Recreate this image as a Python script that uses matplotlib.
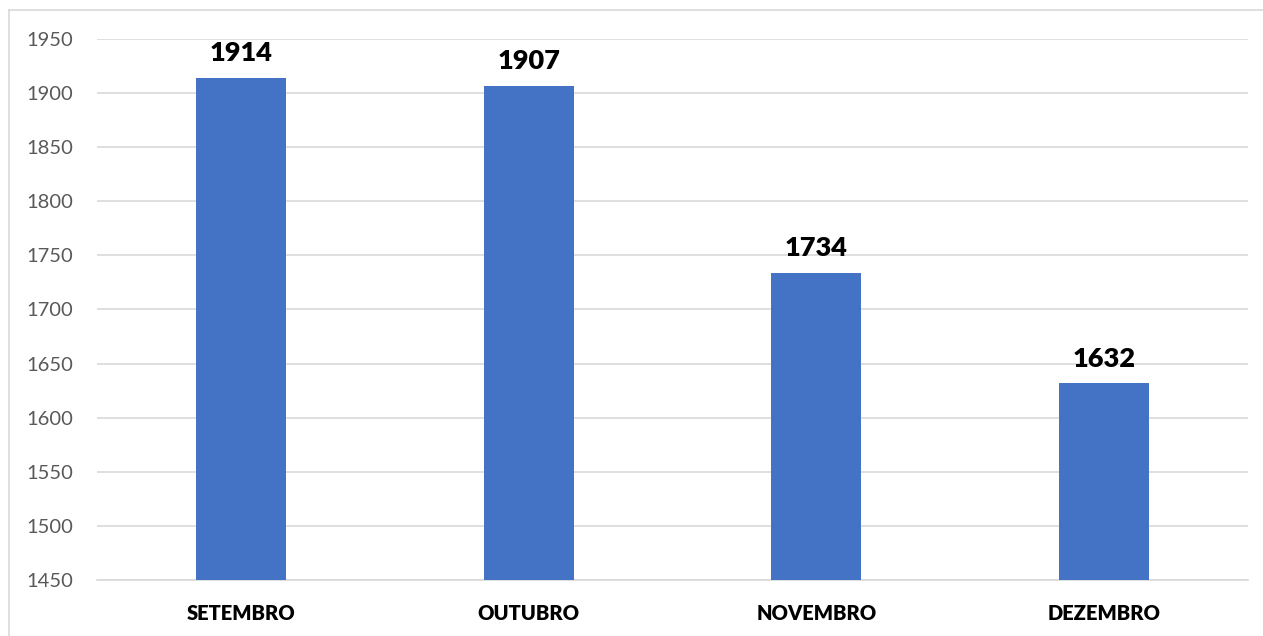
import numpy as np
import matplotlib.pyplot as plt
from matplotlib.lines import Line2D

# data
months = ["SETEMBRO", "OUTUBRO", "NOVEMBRO", "DEZEMBRO"]
values = [1914, 1907, 1734, 1632]
yticks = list(range(1450, 2000, 50))

plt.rcParams['font.family'] = ['Lato', 'DejaVu Sans']

fig = plt.figure(figsize=(12.63, 6.36), dpi=100)
ax = fig.add_axes([97 / 1263, 1 - 580 / 636, (1248 - 97) / 1263, (580 - 39) / 636])

x = np.arange(len(months))
bars = ax.bar(x, values, width=0.313, color="#4472C4", zorder=3)

ax.set_xlim(-0.5, len(months) - 0.5)
ax.set_ylim(1450, 1950)
ax.set_yticks(yticks)
ax.set_yticklabels([str(t) for t in yticks], fontsize=14.5, color="#595959")
ax.set_xticks(x)
ax.set_xticklabels(months, fontsize=14.5, fontweight="heavy", color="black")
ax.tick_params(axis="y", length=0, pad=17)
ax.tick_params(axis="x", length=0, pad=17)

ax.grid(axis="y", color="#D9D9D9", linewidth=1.2, zorder=0)
for s in ["top", "right", "left"]:
    ax.spines[s].set_visible(False)
ax.spines["bottom"].set_color("#D9D9D9")
ax.spines["bottom"].set_linewidth(1.2)

for xi, v in zip(x, values):
    ax.annotate(str(v), (xi, v), xytext=(0, 9), textcoords="offset points",
                ha="center", va="bottom", fontsize=19.5, fontweight="heavy")

# light frame around the chart (left and top only, the rest is cropped)
fx, fy = 9 / 1263, 1 - 10 / 636
fig.add_artist(Line2D([fx, fx], [0, fy], transform=fig.transFigure, color="#D9D9D9", lw=1.2))
fig.add_artist(Line2D([fx, 1], [fy, fy], transform=fig.transFigure, color="#D9D9D9", lw=1.2))

fig.savefig("out.png", dpi=100, facecolor="white")
